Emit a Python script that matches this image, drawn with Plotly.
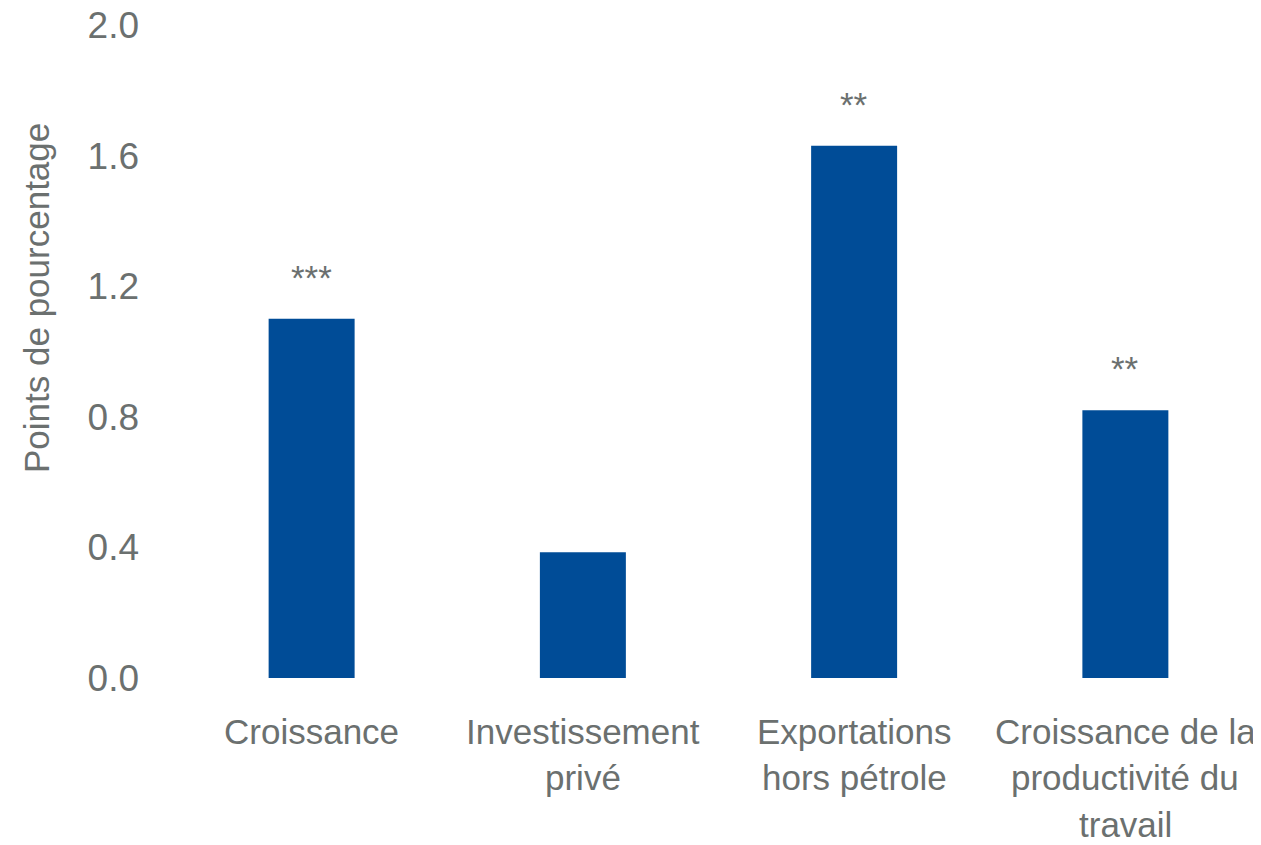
import plotly.graph_objects as go

categories = ["Croissance", "Investissement privé", "Exportations hors pétrole",
              "Croissance de la productivité du travail"]
label_lines = [["Croissance"], ["Investissement", "privé"], ["Exportations", "hors pétrole"],
               ["Croissance de la", "productivité du", "travail"]]
values = [1.10, 0.385, 1.63, 0.82]
stars = ["***", "", "**", "**"]
y_ticks = [0.0, 0.4, 0.8, 1.2, 1.6, 2.0]
y_tick_labels = ["0.0", "0.4", "0.8", "1.2", "1.6", "2.0"]

FONT = "Liberation Sans Narrow, Arial Narrow, Liberation Sans, Arial, sans-serif"
GRAY = "#6b706f"
BLUE = "#004c97"
FS = 35
FS_TICK = 37

OFF = 8  # default body margin of the html page
W, H = 1261 - OFF, 845 - OFF
L, R, T, B = 176 - OFF, 0, 25 - OFF, 167
plot_h = H - T - B
plot_w = W - L - R

fig = go.Figure(go.Bar(x=categories, y=values, marker=dict(color=BLUE, line=dict(width=0)),
                       width=0.317, hoverinfo="skip"))

annotations = []
for c, v, s in zip(categories, values, stars):
    if s:
        annotations.append(dict(x=c, y=v, xref="x", yref="y", text=s, showarrow=False,
                                yanchor="bottom", yshift=20,
                                font=dict(family=FONT, size=FS, color=GRAY)))

# page pixel baselines of the label lines
baselines = [745, 792, 838]
for c, lines in zip(categories, label_lines):
    for i, line in enumerate(lines):
        center_page = baselines[i] - 14
        yp = (678 - center_page) / plot_h
        annotations.append(dict(x=c, y=yp, xref="x", yref="paper", text=line, showarrow=False,
                                yanchor="middle", xanchor="center",
                                font=dict(family=FONT, size=FS, color=GRAY)))

# y-axis title
annotations.append(dict(x=(36 - 176) / plot_w, y=(678 - 298) / plot_h, xref="paper", yref="paper",
                        text="Points de pourcentage", textangle=-90, showarrow=False,
                        xanchor="center", yanchor="middle",
                        font=dict(family=FONT, size=FS, color=GRAY)))

fig.update_layout(
    width=W, height=H,
    margin=dict(l=L, r=R, t=T, b=B, autoexpand=False),
    paper_bgcolor="white", plot_bgcolor="white",
    showlegend=False,
    font=dict(family=FONT, size=FS, color=GRAY),
    xaxis=dict(showticklabels=False, showgrid=False, zeroline=False, showline=False,
               ticks="", range=[-0.5, 3.5]),
    yaxis=dict(range=[0, 2.0], tickvals=y_ticks, ticktext=y_tick_labels, showgrid=False,
               zeroline=False, showline=False, ticks="", ticklabelstandoff=36,
               ticklabeloverflow="allow",
               tickfont=dict(family=FONT, size=FS_TICK, color=GRAY)),
    annotations=annotations,
)

fig.write_html("out.html")
